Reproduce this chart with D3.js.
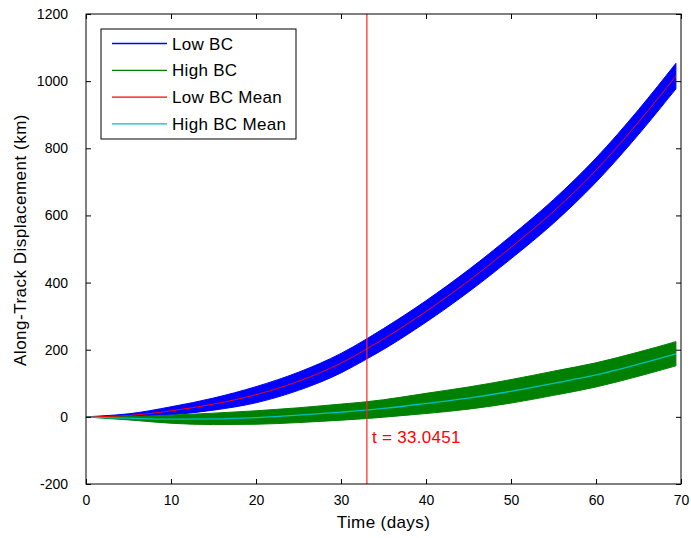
<!DOCTYPE html>
<html>
<head>
<meta charset="utf-8">
<script src="https://cdn.jsdelivr.net/npm/d3@7"></script>
<style>
  html, body { margin: 0; padding: 0; background: #fff; }
  svg { display: block; font-family: "Liberation Sans", Arial, sans-serif; }
</style>
</head>
<body>
<svg id="chart" width="691" height="538"></svg>
<script>
// ---- data ----
const time      = [0, 2, 5, 10, 15, 20, 25, 30, 33, 35, 40, 45, 50, 55, 60, 65, 69.4];
const lowMean   = [0, 1, 4, 18, 38, 66, 106, 160, 202, 232, 314, 405, 505, 612, 735, 878, 1015];
const lowUpper  = [0, 3, 9, 30, 56, 90, 133, 189, 232, 263, 346, 438, 539, 647, 771, 915, 1053];
const lowLower  = [0, -1, -1, 6, 20, 42, 79, 131, 172, 201, 282, 372, 471, 577, 699, 841, 977];
const highMean  = [0, -2, -4, -7, -6, -2, 5, 14, 20, 25, 40, 56, 76, 100, 125, 157, 188];
const highUpper = [0, 0, 1, 5, 11, 18, 27, 38, 45, 51, 70, 89, 111, 136, 161, 193, 224];
const highLower = [0, -4, -9, -19, -23, -22, -17, -10, -5, -1, 10, 23, 41, 64, 89, 121, 152];
const tMark = 33.0451;
const xTicks = [0, 10, 20, 30, 40, 50, 60, 70];
const yTicks = [-200, 0, 200, 400, 600, 800, 1000, 1200];
const legendLabels = ["Low BC", "High BC", "Low BC Mean", "High BC Mean"];
const legendColors = ["#0000ff", "#008000", "#ff0000", "#00bfbf"];

// ---- layout ----
const L = 86, R = 681, T = 14, B = 484;
const svg = d3.select("#chart");
const x = d3.scaleLinear().domain([0, 70]).range([L, R]);
const y = d3.scaleLinear().domain([-200, 1200]).range([B, T]);
const fmt = v => String(v);

const lowRows = time.map((t, i) => ({t, m: lowMean[i], u: lowUpper[i], l: lowLower[i]}));
const highRows = time.map((t, i) => ({t, m: highMean[i], u: highUpper[i], l: highLower[i]}));

svg.append("clipPath").attr("id", "clip")
  .append("rect").attr("x", L).attr("y", T).attr("width", R - L).attr("height", B - T);
const g = svg.append("g").attr("clip-path", "url(#clip)");

const area = d3.area().x(d => x(d.t)).y0(d => y(d.l)).y1(d => y(d.u)).curve(d3.curveMonotoneX);
const line = d3.line().x(d => x(d.t)).y(d => y(d.m)).curve(d3.curveMonotoneX);

g.append("path").datum(lowRows).attr("d", area).attr("fill", legendColors[0]).attr("stroke", legendColors[0]).attr("stroke-width", 1);
g.append("path").datum(highRows).attr("d", area).attr("fill", legendColors[1]).attr("stroke", legendColors[1]).attr("stroke-width", 1);
g.append("path").datum(lowRows).attr("d", line).attr("fill", "none").attr("stroke", legendColors[2]).attr("stroke-width", 1);
g.append("path").datum(highRows).attr("d", line).attr("fill", "none").attr("stroke", legendColors[3]).attr("stroke-width", 1.3);

// vertical marker
svg.append("line").attr("x1", x(tMark)).attr("x2", x(tMark)).attr("y1", T).attr("y2", B)
  .attr("stroke", "#ff2020").attr("stroke-width", 1.2);
svg.append("text").attr("x", x(tMark) + 5).attr("y", 443)
  .attr("fill", "#ff0000").attr("font-size", 17).attr("letter-spacing", 0.3)
  .text("t = " + tMark);

// axes box
svg.append("rect").attr("x", L).attr("y", T).attr("width", R - L).attr("height", B - T)
  .attr("fill", "none").attr("stroke", "#000").attr("stroke-width", 1);

const tickLen = 5;
const xAxisB = d3.axisBottom(x).tickValues(xTicks).tickFormat(fmt).tickSizeInner(-tickLen).tickSizeOuter(0).tickPadding(11);
const xAxisT = d3.axisTop(x).tickValues(xTicks).tickSizeInner(-tickLen).tickSizeOuter(0).tickFormat("");
const yAxisL = d3.axisLeft(y).tickValues(yTicks).tickFormat(fmt).tickSizeInner(-tickLen).tickSizeOuter(0).tickPadding(18);
const yAxisR = d3.axisRight(y).tickValues(yTicks).tickSizeInner(-tickLen).tickSizeOuter(0).tickFormat("");

function style(sel) {
  sel.select(".domain").remove();
  sel.selectAll("text").attr("font-size", 14).attr("fill", "#000").attr("font-family", "Liberation Sans, Arial, sans-serif");
  sel.selectAll("line").attr("stroke", "#000");
}
svg.append("g").attr("transform", `translate(0,${B})`).call(xAxisB).call(style);
svg.append("g").attr("transform", `translate(0,${T})`).call(xAxisT).call(style);
svg.append("g").attr("transform", `translate(${L},0)`).call(yAxisL).call(style);
svg.append("g").attr("transform", `translate(${R},0)`).call(yAxisR).call(style);

// axis labels
svg.append("text").attr("x", (L + R) / 2).attr("y", 528).attr("text-anchor", "middle")
  .attr("font-size", 17).attr("letter-spacing", 0.4).text("Time (days)");
svg.append("text").attr("transform", `translate(26,240) rotate(-90)`)
  .attr("text-anchor", "middle").attr("font-size", 17).attr("letter-spacing", 0.5)
  .text("Along-Track Displacement (km)");

// legend
const leg = svg.append("g");
leg.append("rect").attr("x", 101).attr("y", 29).attr("width", 195).attr("height", 110)
  .attr("fill", "#fff").attr("stroke", "#000").attr("stroke-width", 1);
legendLabels.forEach((lab, i) => {
  const cy = 43.5 + i * 26.8;
  leg.append("line").attr("x1", 112).attr("x2", 167).attr("y1", cy).attr("y2", cy)
    .attr("stroke", legendColors[i]).attr("stroke-width", 1.3);
  leg.append("text").attr("x", 172).attr("y", cy + 6).attr("font-size", 17)
    .attr("letter-spacing", 0.3).text(lab);
});
</script>
</body>
</html>
